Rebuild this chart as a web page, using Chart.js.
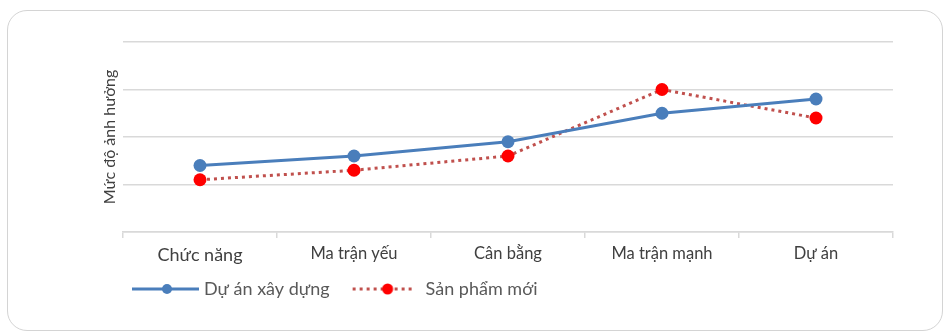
<!DOCTYPE html>
<html>
<head>
<meta charset="utf-8">
<script src="https://cdn.jsdelivr.net/npm/chart.js@4.4.0/dist/chart.umd.min.js"></script>
<style>
  html, body { margin: 0; padding: 0; background: #fff; }
  #frame {
    position: absolute; left: 7px; top: 10px; width: 934px; height: 319px;
    border: 1.5px solid #d4d4d4; border-radius: 20px;
  }
  #wrap { position: absolute; left: 0; top: 0; width: 945px; height: 332px; }
</style>
</head>
<body>
<div id="frame"></div>
<div id="wrap"><canvas id="chart"></canvas></div>
<script>
// Dữ liệu
const categories = ['Chức năng', 'Ma trận yếu', 'Cân bằng', 'Ma trận mạnh', 'Dự án'];
const duAnXayDung = [1.4, 1.6, 1.9, 2.5, 2.8];
const sanPhamMoi = [1.1, 1.3, 1.6, 3.0, 2.4];
const seriesNames = ['Dự án xây dựng', 'Sản phẩm mới'];
const yTitle = 'Mức độ ảnh hưởng';

const BLUE = '#4a7ebb';
const RED_LINE = '#c0504d';
const RED_DOT = '#ff0000';
const FONT = 'Lato, "Open Sans", sans-serif';

// icon cho chú thích: đường + điểm
function legendIcon(color, dotColor, dashed) {
  const c = document.createElement('canvas');
  c.width = 84; c.height = 14;
  const g = c.getContext('2d');
  g.strokeStyle = color;
  g.lineWidth = 3;
  g.beginPath();
  if (dashed) {
    g.setLineDash([3, 4]);
    g.moveTo(15, 7); g.lineTo(76, 7);
  } else {
    g.moveTo(16, 7); g.lineTo(83, 7);
  }
  g.stroke();
  g.setLineDash([]);
  g.fillStyle = dotColor;
  g.beginPath();
  g.arc(dashed ? 50 : 51, 7, dashed ? 5.5 : 5, 0, Math.PI * 2);
  g.fill();
  return c;
}

const icons = [legendIcon(BLUE, BLUE, false), legendIcon(RED_LINE, RED_DOT, true)];

new Chart(document.getElementById('chart'), {
  type: 'line',
  data: {
    labels: categories,
    datasets: [{
      label: seriesNames[0],
      data: duAnXayDung,
      borderColor: BLUE,
      borderWidth: 3,
      pointRadius: 6.5,
      pointBackgroundColor: BLUE,
      pointBorderColor: BLUE,
      pointBorderWidth: 0,
      tension: 0
    }, {
      label: seriesNames[1],
      data: sanPhamMoi,
      borderColor: RED_LINE,
      borderWidth: 3,
      borderDash: [3, 4],
      pointRadius: 6.5,
      pointBackgroundColor: RED_DOT,
      pointBorderColor: RED_DOT,
      pointBorderWidth: 0,
      tension: 0
    }]
  },
  options: {
    responsive: true,
    maintainAspectRatio: false,
    animation: false,
    layout: { padding: { left: 108, right: 52, top: 42, bottom: 24 } },
    plugins: {
      tooltip: { enabled: false },
      legend: {
        position: 'bottom',
        align: 'start',
        labels: {
          usePointStyle: true,
          pointStyleWidth: 74,
          padding: 13,
          color: '#595959',
          font: { family: FONT, size: 18 },
          generateLabels: (chart) => chart.data.datasets.map((ds, i) => ({
            text: ds.label,
            pointStyle: icons[i],
            fillStyle: 'transparent',
            strokeStyle: 'transparent',
            lineWidth: 0,
            fontColor: '#595959',
            hidden: false,
            datasetIndex: i
          }))
        }
      }
    },
    scales: {
      x: {
        offset: true,
        afterFit: (scale) => { scale.height = 35; },
        grid: {
          display: true,
          offset: true,
          drawOnChartArea: false,
          color: '#d9d9d9',
          lineWidth: 1.5,
          tickLength: 6
        },
        border: { display: true, color: '#d9d9d9', width: 1.5 },
        ticks: {
          padding: 6,
          color: '#404040',
          font: (ctx) => ({ family: FONT, size: ctx.index === 0 ? 18 : 16.5 })
        }
      },
      y: {
        min: 0,
        max: 4,
        afterFit: (scale) => { scale.width = 15; },
        ticks: { display: false, stepSize: 1 },
        grid: { color: '#d9d9d9', lineWidth: 1.5, drawTicks: false },
        border: { display: false },
        title: {
          display: true,
          text: yTitle,
          color: '#404040',
          font: { family: FONT, size: 16 },
          padding: { top: -7.6, bottom: 0 }
        }
      }
    }
  }
});
</script>
</body>
</html>
